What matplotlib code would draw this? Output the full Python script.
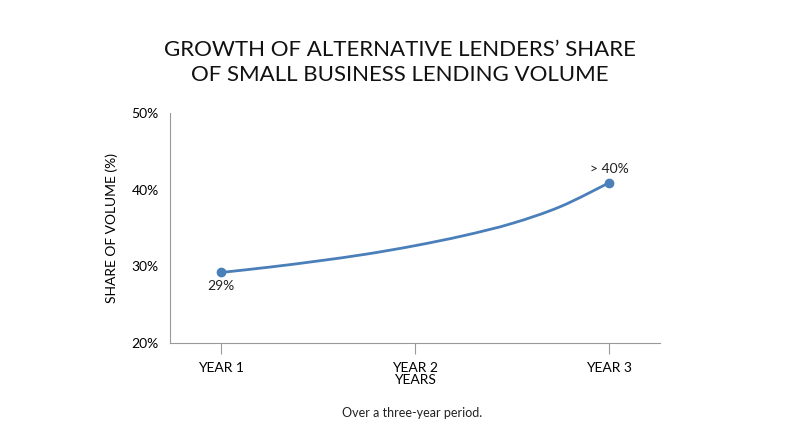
import matplotlib
matplotlib.use("Agg")
import matplotlib.pyplot as plt
from matplotlib.path import Path
from matplotlib.patches import PathPatch

plt.rcParams['font.family'] = ['Lato', 'DejaVu Sans']

years = ["YEAR 1", "YEAR 2", "YEAR 3"]
curve_x = [1, 1.25, 1.5, 1.75, 2, 2.25, 2.5, 2.75, 3]
curve_y = [29.2, 29.9, 30.7, 31.6, 32.7, 34.0, 35.6, 37.8, 40.9]
end_x = [1, 3]
end_y = [29.2, 40.9]
end_labels = ["29%", "> 40%"]
yticks = [20, 30, 40, 50]

fig = plt.figure(figsize=(8, 4.47), dpi=100)
ax = fig.add_axes([0.2125, 0.2327, 0.6125, 0.5143])
col = "#4a7fba"

# smooth Catmull-Rom curve through the read points, drawn as cubic Beziers
pts = list(zip(curve_x, curve_y))
verts = [pts[0]]
codes = [Path.MOVETO]
n = len(pts)
for i in range(n - 1):
    p0 = pts[i - 1] if i > 0 else pts[i]
    p1, p2 = pts[i], pts[i + 1]
    p3 = pts[i + 2] if i + 2 < n else pts[i + 1]
    c1 = (p1[0] + (p2[0] - p0[0]) / 6, p1[1] + (p2[1] - p0[1]) / 6)
    c2 = (p2[0] - (p3[0] - p1[0]) / 6, p2[1] - (p3[1] - p1[1]) / 6)
    verts += [c1, c2, p2]
    codes += [Path.CURVE4] * 3
ax.add_patch(PathPatch(Path(verts, codes), fill=False, edgecolor=col, lw=2))
ax.plot(end_x, end_y, 'o', color=col, ms=6)
ax.text(1, 29.2 - 1.8, end_labels[0], ha='center', va='center', fontsize=10, color='#222')
ax.text(3, 40.9 + 1.8, end_labels[1], ha='center', va='center', fontsize=10, color='#222')

ax.set_xlim(0.737, 3.263)
ax.set_ylim(20, 50)
ax.set_xticks([1, 2, 3])
ax.set_xticklabels(years, fontsize=10)
ax.set_yticks(yticks)
ax.set_yticklabels([f"{v}%" for v in yticks], fontsize=10)
for s in ['top', 'right']:
    ax.spines[s].set_visible(False)
for s in ['left', 'bottom']:
    ax.spines[s].set_color('#999')
ax.tick_params(axis='x', length=8, color='#999', pad=6)
ax.tick_params(axis='y', length=0, pad=8)
ax.set_xlabel("YEARS", fontsize=10, labelpad=0)
ax.set_ylabel("SHARE OF VOLUME (%)", fontsize=10, labelpad=10)

fig.text(0.5, 0.86, "GROWTH OF ALTERNATIVE LENDERS\u2019 SHARE\nOF SMALL BUSINESS LENDING VOLUME",
         ha='center', va='center', fontsize=16, linespacing=1.3, color='#111')
fig.text(0.515, 0.075, "Over a three-year period.", ha='center', va='center', fontsize=9, color='#222')
fig.savefig("out.png", dpi=100)
